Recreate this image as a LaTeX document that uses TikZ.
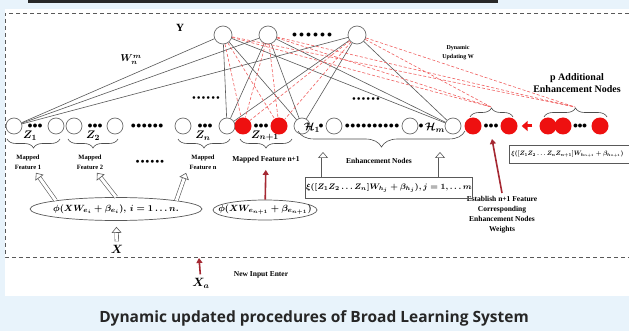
\documentclass[tikz,border=0pt]{standalone}
\usepackage{amsmath}
\usepackage{amssymb}
\usepackage{fontspec}
\setmainfont{Liberation Serif}
\newfontfamily\capfont{Open Sans}
\usetikzlibrary{decorations.pathreplacing,arrows.meta,shapes.geometric}

\definecolor{bgblue}{RGB}{232,243,251}
\definecolor{nodered}{RGB}{238,16,16}
\definecolor{linkred}{RGB}{240,95,95}
\definecolor{arrowred}{RGB}{165,40,50}
\definecolor{ringgray}{RGB}{110,110,110}
\definecolor{topbar}{RGB}{40,40,40}

\newcommand{\dotrow}[2]{\foreach \k in {1,...,#1}{\ifnum\k>1 \hspace{#2}\fi${\bullet}$}}

\begin{document}
\begin{tikzpicture}[x=1pt,y=-1pt,
  unit/.style={draw=ringgray, circle, minimum size=16pt, inner sep=0pt, line width=0.7pt},
  runit/.style={fill=nodered, circle, minimum size=17pt, inner sep=0pt},
  link/.style={draw=gray!70!black, line width=0.6pt},
  newlink/.style={draw=linkred, line width=0.6pt, dash pattern=on 3pt off 2pt},
  lbl/.style={font=\fontsize{6.5}{10}\selectfont\bfseries, align=center},
  biglbl/.style={font=\fontsize{7.5}{10}\selectfont\bfseries, align=center},
  zl/.style={font=\fontsize{11}{11}\selectfont\boldmath},
  formula/.style={font=\fontsize{9.5}{10}\selectfont\boldmath},
  hollow/.style={draw=gray!70!black, double=white, double distance=3pt, line width=0.6pt,
    -{Triangle[open, length=6pt, width=10pt, line width=0.6pt]}},
  feed/.style={draw=arrowred, line width=1.6pt, -{Triangle[length=5pt, width=6pt]}},
  push/.style={draw=nodered, line width=3pt, -{Triangle[length=6pt, width=10pt]}},
  grp/.style={decorate, decoration={brace, mirror, amplitude=9pt}, draw=gray!60!black, line width=0.6pt},
  grpup/.style={decorate, decoration={brace, amplitude=9pt}, draw=gray!60!black, line width=0.6pt}
]
\useasboundingbox (0,0) rectangle (629,331);
\fill[bgblue] (0,0) rectangle (629,331);
\fill[white] (5,9) rectangle (629,296);
\fill[topbar] (28,0) rectangle (498,3);
\draw[gray!70!black, dash pattern=on 4pt off 3pt, line width=0.6pt] (629,13) -- (5,13) -- (5,257) -- (629,257);

\node[unit, minimum size=18pt] (y1) at (223,35) {};
\node[unit, minimum size=18pt] (y2) at (268,35) {};
\node[unit, minimum size=18pt] (y3) at (357,35) {};
\node[font=\fontsize{11}{11}\selectfont\bfseries] (ylbl) at (180,28) {Y};
\node (ydots) at (312,35) {\dotrow{6}{2pt}};
\node[font=\fontsize{10}{10}\selectfont\boldmath] (wlbl) at (131,60) {$W_n^{m}$};
\node[font=\fontsize{6}{9}\selectfont\bfseries, align=center] (dyn) at (458,53) {Dynamic\\Updating W};
\node (mdots1) at (206,98) {\fontsize{6}{6}\selectfont\dotrow{6}{1pt}};
\node (mdots2) at (366,99) {\fontsize{6}{6}\selectfont\dotrow{6}{1pt}};

\node[unit] (z1a) at (14,126) {};
\node (z1d) at (35,126) {\dotrow{3}{0pt}};
\node[unit] (z1b) at (56,126) {};
\node[unit] (z2a) at (74,126) {};
\node (z2d) at (95,126) {\dotrow{3}{0pt}};
\node[unit] (z2b) at (115,126) {};
\node (zdots) at (147,126) {\dotrow{6}{0.5pt}};
\node[unit] (zna) at (183,126) {};
\node (znd) at (205,126) {\dotrow{3}{0pt}};
\node[unit] (znb) at (227,126) {};
\node[runit] (zra) at (243,126) {};
\node (zrd) at (261,126) {\dotrow{3}{0pt}};
\node[runit] (zrb) at (279,126) {};
\node[unit] (h1) at (302,126) {};
\node[zl] (h1l) at (312,128) {$\mathcal{H}_1$};
\node (h1d) at (321,126) {${\bullet}$};
\node[unit] (h2) at (334,126) {};
\node (hdots) at (372,126) {\dotrow{10}{0.5pt}};
\node[unit] (h3) at (410,126) {};
\node (h3d) at (421,126) {${\bullet}$};
\node[zl] (hml) at (435,128) {$\mathcal{H}_m$};
\node[unit] (hm) at (453,126) {};
\node[runit] (ra) at (473,126) {};
\node (rd) at (491,126) {\dotrow{3}{0pt}};
\node[runit] (rb) at (509,126) {};
\node[runit] (pa) at (548,126) {};
\node[runit] (pb) at (563,126) {};
\node (pd) at (580,126) {\dotrow{3}{-0.5pt}};
\node[runit] (pc) at (600,126) {};

\draw[grp] (7,139) -- (60,139);
\draw[grp] (68,139) -- (118,139);
\draw[grp] (178,139) -- (230,139);
\draw[grp] (240,139) -- (292,139);
\draw[grp, decoration={amplitude=16pt}] (298,131) -- (465,131);
\draw[grpup] (470,117) -- (513,117);
\draw[grpup] (544,117) -- (607,117);
\coordinate (rtip) at (491,107);
\coordinate (ptip) at (575,107);

\node[zl] (zl1) at (30,136) {$Z_1$};
\node[zl] (zl2) at (93,136) {$Z_2$};
\node[zl] (zln) at (203,136) {$Z_n$};
\node[zl] (zlr) at (265,136) {$Z_{n+1}$};

\node[lbl] (mf1) at (28,162) {Mapped\\Feature 1};
\node[lbl] (mf2) at (90,162) {Mapped\\Feature 2};
\node (mfdots) at (150,162) {\fontsize{7}{7}\selectfont\dotrow{6}{0.8pt}};
\node[lbl] (mfn) at (203,162) {Mapped\\Feature n};
\node[biglbl] (mfr) at (266,160) {Mapped Feature n+1};
\node[biglbl] (enl) at (379,161) {Enhancement Nodes};
\node[biglbl] (est) at (502,215) {Establish n+1 Feature\\Corresponding\\Enhancement Nodes\\Weights};
\node[font=\fontsize{10}{12}\selectfont\bfseries, align=center] (padd) at (577,83) {p Additional\\Enhancement Nodes};
\node[biglbl] (newin) at (261,275) {New Input Enter};

\node[ellipse, draw=gray!70!black, line width=0.7pt, minimum width=172pt, minimum height=23pt] (phi) at (116,209) {};
\node[formula] (phit) at (phi) {$\phi(XW_{e_i}+\beta_{e_i}),\,i=1\ldots n.$};
\node[ellipse, draw=gray!70!black, line width=0.7pt, minimum width=104pt, minimum height=20pt] (phin) at (265,210) {};
\node[formula] (phint) at (phin) {$\phi(XW_{e_{n+1}}+\beta_{e_{n+1}})$};
\node[draw=gray!70!black, line width=0.7pt, minimum width=148pt, minimum height=21pt, inner sep=1pt, font=\fontsize{8.2}{9}\selectfont\boldmath] (xi) at (389,188) {$\xi([Z_1Z_2\ldots Z_n]W_{h_j}+\beta_{h_j}),j=1,\ldots m$};
\node[draw=gray!70!black, line width=0.7pt, minimum height=18pt, minimum width=125pt, inner sep=2pt, anchor=west, align=left, text width=121pt, font=\boldmath] (xin) at (509,154) {\resizebox{112pt}{!}{$\xi([Z_1Z_2\ldots Z_nZ_{n+1}]W_{h_{n+1}}+\beta_{h_{n+1}})$}};

\node[font=\fontsize{12}{12}\selectfont\boldmath] (xlbl) at (117,249) {$X$};
\node[font=\fontsize{12}{12}\selectfont\boldmath] (xa) at (201,283) {$X_a$};
\coordinate (xtop) at (199,258);
\coordinate (e1) at (323,152);
\coordinate (e2) at (440,152);
\coordinate (rup) at (492,139);

\node[font=\capfont\bfseries\fontsize{15.5}{17}\selectfont, text=black!85] (cap) at (314,318) {Dynamic updated procedures of Broad Learning System};

\path[link] (y1) -- (z1a);
\path[link] (y1) -- (znb);
\path[link] (y1) -- (h1);
\path[link] (y1) -- (hm);
\path[link] (y2) -- (z1a);
\path[link] (y2) -- (znb);
\path[link] (y2) -- (h1);
\path[link] (y2) -- (hm);
\path[link] (y3) -- (z1a);
\path[link] (y3) -- (znb);
\path[link] (y3) -- (h1);
\path[link] (y3) -- (hm);

\path[newlink] (y1) -- (zra);
\path[newlink] (y1) -- (zrb);
\path[newlink] (y1) -- (rtip);
\path[newlink] (y1) -- (ptip);
\path[newlink] (y2) -- (zra);
\path[newlink] (y2) -- (zrb);
\path[newlink] (y2) -- (rtip);
\path[newlink] (y2) -- (ptip);
\path[newlink] (y3) -- (zra);
\path[newlink] (y3) -- (zrb);
\path[newlink] (y3) -- (rtip);
\path[newlink] (y3) -- (ptip);

\path[hollow] (phi.172) -- ([xshift=8pt]mf1.south);
\path[hollow] (phi.90) -- ([xshift=7pt]mf2.south);
\path[hollow] (phi.8) -- (mfn.south west);
\path[hollow, shorten >=6pt] (xlbl) -- (phi);
\path[hollow] (xi.north -| e1) -- (e1);
\path[hollow] (xi.north -| e2) -- (e2);
\path[feed, shorten >=3pt] (phin) -- (mfr);
\path[feed] (est.north) -- (rup);
\path[feed] (xa) -- (xtop);
\path[push, shorten <=7pt, shorten >=4pt] (pa) -- (rb);
\end{tikzpicture}
\end{document}
